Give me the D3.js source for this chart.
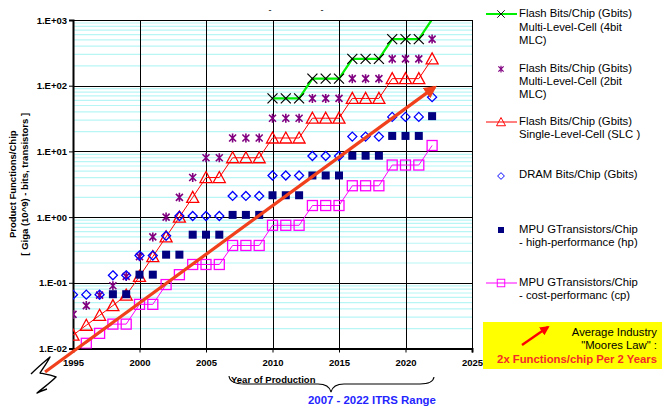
<!DOCTYPE html>
<html><head><meta charset="utf-8">
<script src="https://cdn.jsdelivr.net/npm/d3@7"></script>
<style>
body{margin:0;background:#fff}
svg{display:block}
text{font-family:"Liberation Sans",Arial,sans-serif}
</style>
</head><body>
<svg id="c" width="662" height="414"></svg>
<script>
// ---- data ----
const yearTicks = [1995, 2000, 2005, 2010, 2015, 2020, 2025];
const yTickValues = [1e-2, 1e-1, 1e0, 1e1, 1e2, 1e3];
const yTickLabels = ["1.E-02", "1.E-01", "1.E+00", "1.E+01", "1.E+02", "1.E+03"];

const mlc4Years = d3.range(2010, 2023);
const mlc4Values = [64, 64, 64, 128, 128, 128, 256, 256, 256, 512, 512, 512, 1024];

const mlc2Years = d3.range(1995, 2023);
const mlc2Values = [0.033, 0.045, 0.065, 0.09, 0.125, 0.25, 0.5, 1, 2, 4, 8, 8, 16, 16, 16,
  32, 32, 32, 64, 64, 64, 128, 128, 128, 256, 256, 256, 512];

const slcYears = d3.range(1995, 2023);
const slcValues = [0.016, 0.0226, 0.032, 0.045, 0.065, 0.125, 0.25, 0.5, 1, 2, 4, 4, 8, 8, 8,
  16, 16, 16, 32, 32, 32, 64, 64, 64, 128, 128, 128, 256];

const dramYears = d3.range(1995, 2023);
const dramValues = [0.066, 0.066, 0.066, 0.13, 0.13, 0.26, 0.26, 0.52, 1.04, 1.04, 1.04, 1.04, 2.1, 2.1, 2.1,
  4.3, 4.3, 4.3, 8.5, 8.5, 8.5, 16.8, 16.8, 16.8, 33.5, 33.5, 33.5, 67];

const mpuHpYears = d3.range(1998, 2023);
const mpuHpValues = [0.067, 0.067, 0.133, 0.133, 0.268, 0.268, 0.54, 0.54, 0.54, 1.08, 1.08, 1.08,
  2.15, 2.15, 2.15, 4.3, 4.3, 4.3, 8.6, 8.6, 8.6, 17.2, 17.2, 17.2, 34.4];

const mpuCpYears = d3.range(1996, 2023);
const mpuCpValues = [0.012, 0.017, 0.0235, 0.0235, 0.047, 0.047, 0.094, 0.133, 0.19, 0.19, 0.19,
  0.37, 0.37, 0.37, 0.75, 0.75, 0.75, 1.5, 1.5, 1.5, 3.0, 3.0, 3.0, 6.2, 6.2, 6.2, 12.3];

const mooreYears = [1992.9, 2022.2];
const mooreValues = [0.0044, 95];

const legendItems = [
  {key: "mlc4", lines: ["Flash Bits/Chip (Gbits)", "Multi-Level-Cell (4bit", "MLC)"]},
  {key: "mlc2", lines: ["Flash Bits/Chip (Gbits)", "Multi-Level-Cell (2bit", "MLC)"]},
  {key: "slc", lines: ["Flash Bits/Chip (Gbits)", "Single-Level-Cell (SLC )"]},
  {key: "dram", lines: ["DRAM Bits/Chip (Gbits)"]},
  {key: "hp", lines: ["MPU GTransistors/Chip", "- high-performance (hp)"]},
  {key: "cp", lines: ["MPU GTransistors/Chip", "- cost-performanc (cp)"]}
];

// ---- layout ----
const svg = d3.select("#c");
const L = 73, R = 472, T = 20, B = 348.5;
const x = d3.scaleLinear().domain([1995, 2025]).range([L, R]);
const y = d3.scaleLog().domain([1e-2, 1e3]).range([B, T]);

svg.append("defs").append("clipPath").attr("id", "clip")
  .append("rect").attr("x", L).attr("y", T).attr("width", R - L).attr("height", B - T);

// minor gridlines
const minor = [];
for (let d = -2; d <= 2; d++) for (let k = 2; k <= 9; k++) minor.push(k * Math.pow(10, d));
svg.append("g").selectAll("line").data(minor).join("line")
  .attr("x1", L).attr("x2", R).attr("y1", d => y(d)).attr("y2", d => y(d))
  .attr("stroke", "#b8f6f6").attr("stroke-width", 1.2);

// major gridlines
svg.append("g").selectAll("line").data(yTickValues).join("line")
  .attr("x1", L).attr("x2", R).attr("y1", d => Math.round(y(d)) + 0.5).attr("y2", d => Math.round(y(d)) + 0.5)
  .attr("stroke", "#000").attr("stroke-width", 1);
svg.append("g").selectAll("line").data(yearTicks).join("line")
  .attr("y1", T).attr("y2", B).attr("x1", d => Math.round(x(d)) + 0.5).attr("x2", d => Math.round(x(d)) + 0.5)
  .attr("stroke", "#000").attr("stroke-width", 1);

// axes
const yAxis = d3.axisLeft(y).tickValues(yTickValues).tickFormat((d, i) => yTickLabels[i]).tickSize(4).tickPadding(2);
const gy = svg.append("g").attr("transform", `translate(${L},0)`).call(yAxis);
gy.select(".domain").attr("stroke-width", 2);
gy.selectAll("text").attr("font-size", "9.5px").attr("font-weight", "bold").attr("fill", "#000")
  .attr("font-family", "'Liberation Sans',Arial,sans-serif");

const xAxis = d3.axisBottom(x).tickValues(yearTicks).tickFormat(d3.format("d")).tickSize(4).tickPadding(7);
const gx = svg.append("g").attr("transform", `translate(0,${B})`).call(xAxis);
gx.select(".domain").attr("stroke-width", 2);
gx.selectAll("text").attr("font-size", "9.5px").attr("font-weight", "bold").attr("fill", "#000")
  .attr("font-family", "'Liberation Sans',Arial,sans-serif");

// y axis title
svg.append("text").attr("transform", `translate(16,${(T + B) / 2}) rotate(-90)`)
  .attr("text-anchor", "middle").attr("font-size", "9.5px").attr("font-weight", "bold")
  .text("Product Functions/Chip");
svg.append("text").attr("transform", `translate(28,${(T + B) / 2}) rotate(-90)`)
  .attr("text-anchor", "middle").attr("font-size", "9.5px").attr("font-weight", "bold")
  .text("[ Giga (10^9) - bits, transistors ]");

// top dashes
svg.append("text").attr("x", 270).attr("y", 13).attr("text-anchor", "middle").attr("font-size", "9px").text("-");
svg.append("text").attr("x", 322).attr("y", 13).attr("text-anchor", "middle").attr("font-size", "9px").text("-");

// ---- markers ----
const sym = {
  mlc4: g => g.append("path").attr("d", "M-5,-5L5,5M5,-5L-5,5").attr("stroke", "#000").attr("stroke-width", 1.2).attr("fill", "none"),
  mlc2: g => g.append("path").attr("d", "M-3.5,-3.5L3.5,3.5M3.5,-3.5L-3.5,3.5M0,-4.5L0,4.5").attr("stroke", "#800080").attr("stroke-width", 1.6).attr("fill", "none"),
  slc: g => g.append("path").attr("d", "M0,-6L6,5L-6,5Z").attr("stroke", "#ff0000").attr("stroke-width", 1.3).attr("fill", "none"),
  dram: g => g.append("path").attr("d", "M0,-4.5L4.5,0L0,4.5L-4.5,0Z").attr("stroke", "#0000ff").attr("stroke-width", 1.3).attr("fill", "none"),
  hp: g => g.append("rect").attr("x", -4).attr("y", -4).attr("width", 8).attr("height", 8).attr("fill", "#000080"),
  cp: g => g.append("rect").attr("x", -5).attr("y", -5).attr("width", 10).attr("height", 10).attr("stroke", "#ff00ff").attr("stroke-width", 1.3).attr("fill", "none")
};

const plot = svg.append("g").attr("clip-path", "url(#clip)");
const line = d3.line().x(d => x(d[0])).y(d => y(d[1]));
const zip = (a, b) => a.map((v, i) => [v, b[i]]);
const [yMin, yMax] = y.domain();

function drawMarkers(key, years, values) {
  const g = plot.append("g");
  zip(years, values).filter(p => p[1] >= yMin && p[1] <= yMax).forEach(p => {
    const m = g.append("g").attr("transform", `translate(${x(p[0])},${y(p[1])})`);
    sym[key](m);
  });
}

// 4-bit MLC
plot.append("path").datum(zip(mlc4Years, mlc4Values)).attr("d", line)
  .attr("fill", "none").attr("stroke", "#00ee00").attr("stroke-width", 2.2);
drawMarkers("mlc4", mlc4Years, mlc4Values);
// 2-bit MLC
drawMarkers("mlc2", mlc2Years, mlc2Values);
// SLC
plot.append("path").datum(zip(slcYears, slcValues)).attr("d", line)
  .attr("fill", "none").attr("stroke", "#ff0000").attr("stroke-width", 1);
drawMarkers("slc", slcYears, slcValues);
// DRAM
drawMarkers("dram", dramYears, dramValues);
// MPU hp
drawMarkers("hp", mpuHpYears, mpuHpValues);
// MPU cp
plot.append("path").datum(zip(mpuCpYears, mpuCpValues)).attr("d", line)
  .attr("fill", "none").attr("stroke", "#ff00ff").attr("stroke-width", 1);
drawMarkers("cp", mpuCpYears, mpuCpValues);

// plot frame top/right
svg.append("line").attr("x1", L).attr("x2", R + 0.5).attr("y1", T + 0.5).attr("y2", T + 0.5).attr("stroke", "#000");
svg.append("line").attr("x1", R + 0.5).attr("x2", R + 0.5).attr("y1", T).attr("y2", B).attr("stroke", "#000");

// ---- Moore's law arrow ----
const defs = svg.select("defs");
defs.append("marker").attr("id", "ah").attr("viewBox", "0 0 10 10").attr("refX", 8).attr("refY", 5)
  .attr("markerWidth", 4).attr("markerHeight", 4).attr("orient", "auto")
  .append("path").attr("d", "M0,0L10,5L0,10Z").attr("fill", "#f0401c");
defs.append("marker").attr("id", "ah2").attr("viewBox", "0 0 10 10").attr("refX", 8).attr("refY", 5)
  .attr("markerWidth", 4).attr("markerHeight", 4).attr("orient", "auto")
  .append("path").attr("d", "M0,0L10,5L0,10Z").attr("fill", "#ff0000");

// axis break symbol (drawn under the arrow)
svg.append("path").attr("d", "M31,374 C37,368 44,362 50,357 C47,363 43,368 40,373 C45,374 51,375 56,377 C50,383 43,388 37,393 C40,392 43,390 47,389")
  .attr("fill", "none").attr("stroke", "#000").attr("stroke-width", 1.4).attr("stroke-linejoin", "round");

svg.append("path").datum(zip(mooreYears, mooreValues)).attr("d", line)
  .attr("fill", "none").attr("stroke", "#f0401c").attr("stroke-width", 3.2).attr("marker-end", "url(#ah)");

// brace and range text
svg.append("path").attr("d", "M229,376 Q230,384 244,384 L318,384 Q329,384 331,392 Q333,384 344,384 L420,384 Q433,384 434,377")
  .attr("fill", "none").attr("stroke", "#000").attr("stroke-width", 1.1);
svg.append("text").attr("x", 231).attr("y", 382.5).attr("font-size", "9.5px").attr("font-weight", "bold")
  .text("Year of Production");
svg.append("text").attr("x", 308).attr("y", 404).attr("font-size", "11.4px").attr("font-weight", "bold")
  .attr("fill", "#2424ff").text("2007 - 2022 ITRS Range");

// ---- legend ----
const legY = [14, 69, 122, 176, 230, 283];
const legBase = [17.3, 71.7, 125, 178.3, 232.7, 286];
const lg = svg.append("g");
legendItems.forEach((it, i) => {
  const cy = legY[i];
  if (it.key === "mlc4") lg.append("line").attr("x1", 486).attr("x2", 517).attr("y1", cy).attr("y2", cy).attr("stroke", "#00ee00").attr("stroke-width", 2);
  if (it.key === "slc") lg.append("line").attr("x1", 486).attr("x2", 517).attr("y1", cy).attr("y2", cy).attr("stroke", "#ff0000").attr("stroke-width", 1);
  if (it.key === "cp") lg.append("line").attr("x1", 486).attr("x2", 517).attr("y1", cy).attr("y2", cy).attr("stroke", "#ff00ff").attr("stroke-width", 1);
  const m = lg.append("g").attr("transform", `translate(501,${cy}) scale(0.75)`);
  sym[it.key](m);
  it.lines.forEach((t, j) => {
    lg.append("text").attr("x", 519).attr("y", legBase[i] + j * 13.3).attr("font-size", "11.3px").attr("fill", "#000").text(t);
  });
});

// yellow note box
svg.append("rect").attr("x", 483).attr("y", 322).attr("width", 179).attr("height", 47).attr("fill", "#ffff00");
svg.append("line").attr("x1", 522).attr("y1", 345).attr("x2", 548).attr("y2", 327)
  .attr("stroke", "#ff0000").attr("stroke-width", 2.4).attr("marker-end", "url(#ah2)");
svg.append("text").attr("x", 657).attr("y", 336).attr("text-anchor", "end").attr("font-size", "11.3px").text("Average Industry");
svg.append("text").attr("x", 657).attr("y", 349.3).attr("text-anchor", "end").attr("font-size", "11.3px").text("\"Moores Law\" :");
svg.append("text").attr("x", 657).attr("y", 362.7).attr("text-anchor", "end").attr("font-size", "11.3px")
  .attr("font-weight", "bold").attr("fill", "#f42a2a").text("2x Functions/chip Per 2 Years");
</script>
</body></html>
